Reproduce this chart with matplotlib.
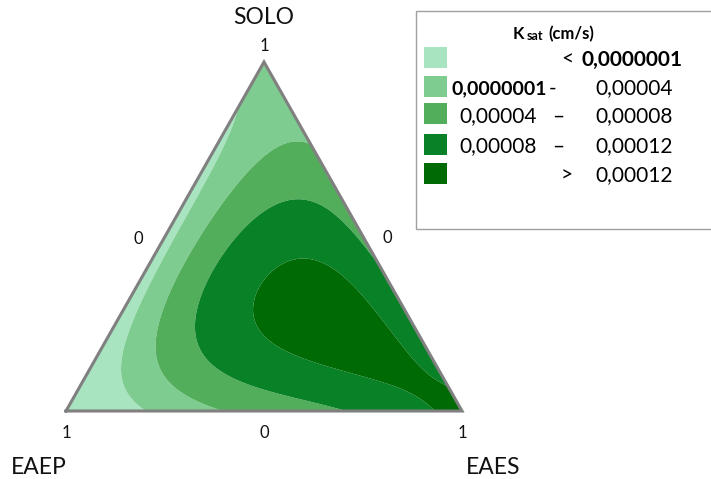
"""
Ternary contour of saturated hydraulic conductivity (Ksat) for
SOLO / EAEP / EAES mixtures. Output: out.png
"""
from math import factorial

import matplotlib.pyplot as plt
import numpy as np
from matplotlib.patches import Rectangle

# ---------------------------------------------------------------------------
# Data
# ---------------------------------------------------------------------------

COMPONENTS = ["SOLO", "EAEP", "EAES"]

# Bernstein control net (degree 5) of the Ksat surface, in 1e-5 cm/s.
# Row k holds the terms with SOLO power 5-k, EAES power falling left→right.
KSAT_NET = [
    [1.4],
    [1.0, -0.8],
    [10.9, 6.7, -3.3],
    [5.2, 24.8, 21.4, -0.7],
    [10.4, 25.0, 10.1, 17.5, -3.0],
    [13.0, 10.8, 1.8, 9.8, -1.3, -5.1],
]
NET_UNIT = 1e-5

LEVELS = [1e-7, 4e-5, 8e-5, 1.2e-4]            # cm/s
COLORS = ["#A8E4C0", "#7FCC90", "#53AE5C", "#098127", "#006A05"]

LEGEND_LEFT  = ["", "0,0000001", "0,00004", "0,00008", ""]
LEGEND_SEP   = ["<", "-", "–", "–", ">"]
LEGEND_RIGHT = ["0,0000001", "0,00004", "0,00008", "0,00012", "0,00012"]

plt.rcParams["font.family"] = ["Lato", "DejaVu Sans"]

W, H = 711, 479


def bernstein_surface(net, s, e):
    n = len(net) - 1
    p = 1 - s - e
    z = np.zeros_like(s)
    for row, coefs in enumerate(net):
        i = n - row                      # SOLO power
        for col, b in enumerate(coefs):
            j = n - i - col              # EAES power
            k = n - i - j                # EAEP power
            m = factorial(n) / (factorial(i) * factorial(j) * factorial(k))
            z = z + b * m * s ** i * e ** j * p ** k
    return z


def fx(px):
    return px / W


def fy(py):
    return 1 - py / H


# ---------------------------------------------------------------------------
# Figure
# ---------------------------------------------------------------------------

fig = plt.figure(figsize=(W / 100, H / 100), dpi=100)
ax = fig.add_axes([fx(66), fy(411), 396 / W, 349 / H])
ax.set_xlim(0, 1)
ax.set_ylim(0, 1)
ax.axis("off")

ss, ee = np.meshgrid(np.linspace(0, 1, 400), np.linspace(0, 1, 400))
zz = bernstein_surface(KSAT_NET, ss, ee) * NET_UNIT
zz = np.ma.array(zz, mask=ss + ee > 1.0001)
bounds = [-1.0] + LEVELS + [1.0]
ax.contourf(ee + ss / 2, ss, zz, levels=bounds, colors=COLORS, antialiased=True)
ax.plot([0, 1, 0.5, 0], [0, 0, 1, 0], color="#808080", lw=2.2,
        solid_joinstyle="miter", clip_on=False)

# vertex names and axis ticks
name_kw = dict(fontsize=16.5, ha="center", va="center", color="#111111")
tick_kw = dict(fontsize=12, ha="center", va="center", color="#111111")
fig.text(fx(264), fy(18), COMPONENTS[0], **name_kw)
fig.text(fx(39), fy(467), COMPONENTS[1], **name_kw)
fig.text(fx(493), fy(467), COMPONENTS[2], **name_kw)
for x, y, t in [(264, 46, "1"), (138, 239, "0"), (387, 238, "0"),
                (66, 433, "1"), (264, 433, "0"), (462, 433, "1")]:
    fig.text(fx(x), fy(y), t, **tick_kw)

# legend box
fig.patches.append(Rectangle((fx(416), fy(229)), fx(720) - fx(416), fy(11) - fy(229),
                             transform=fig.transFigure, facecolor="white",
                             edgecolor="#A0A0A0", lw=1.0))
fig.text(fx(513), fy(34), "K", fontsize=12, fontweight="bold", va="center")
fig.text(fx(527), fy(35.5), "sat", fontsize=9, fontweight="bold", va="center")
fig.text(fx(548), fy(34), "(cm/s)", fontsize=12, fontweight="bold", va="center")

row_y = [57, 86, 114, 144, 173]
for r, (y, col) in enumerate(zip(row_y, COLORS)):
    fig.patches.append(Rectangle((fx(424), fy(y + 10.5)), 23 / W, 21 / H,
                                 transform=fig.transFigure, facecolor=col,
                                 edgecolor="none"))
    ty = fy(y + 2.5)
    bold_left = "bold" if r == 1 else "normal"
    bold_right = "bold" if r == 0 else "normal"
    if LEGEND_LEFT[r]:
        fig.text(fx(547 if r == 1 else 537), ty, LEGEND_LEFT[r],
                 fontsize=14 if r == 1 else 15,
                 fontweight=bold_left, ha="right", va="center")
    fig.text(fx(553 if r == 1 else 558 if r in (2, 3) else 567), ty, LEGEND_SEP[r],
             fontsize=15, ha="center", va="center")
    fig.text(fx(582 if r == 0 else 595), ty, LEGEND_RIGHT[r], fontsize=15,
             fontweight=bold_right, ha="left", va="center")

fig.savefig("out.png", dpi=100)
